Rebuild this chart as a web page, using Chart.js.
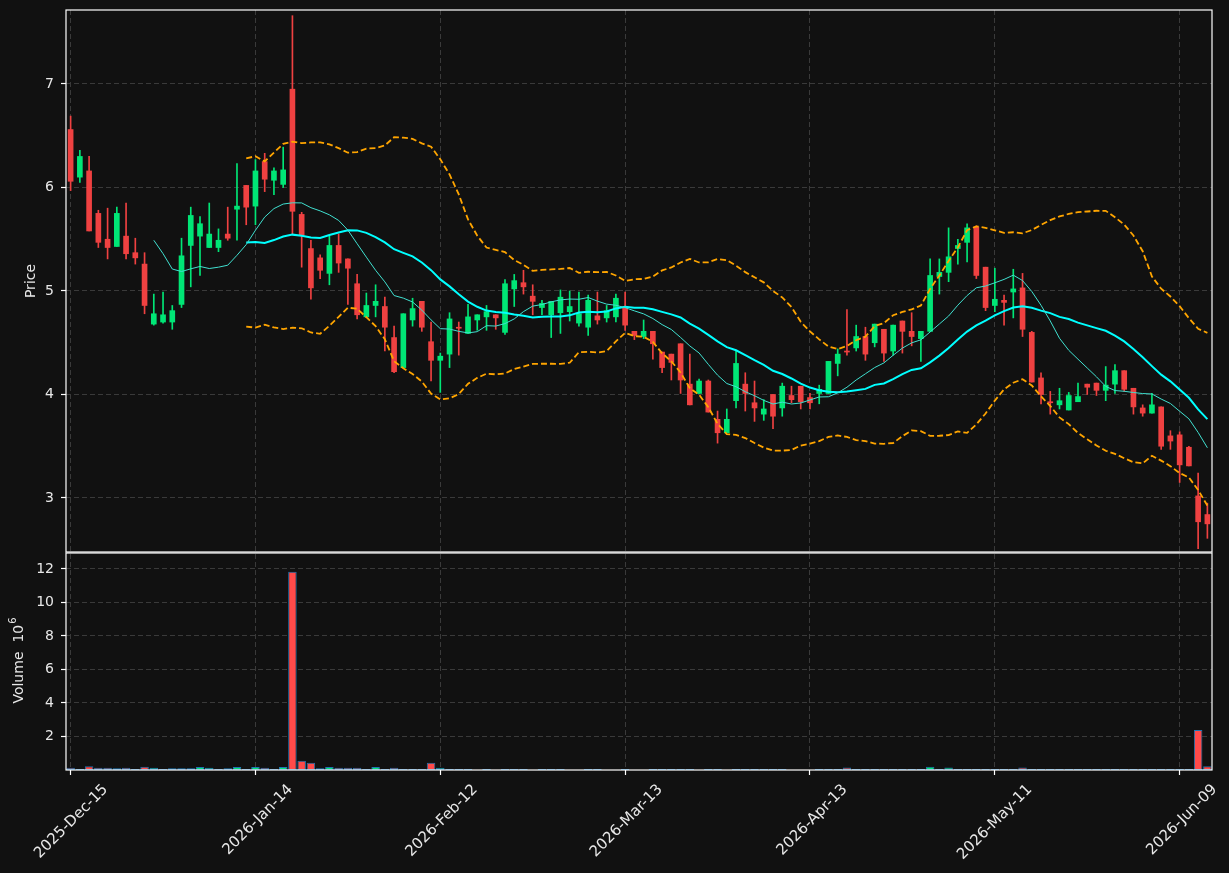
<!DOCTYPE html>
<html>
<head>
<meta charset="utf-8">
<script src="https://cdn.jsdelivr.net/npm/chart.js@4.4.1/dist/chart.umd.min.js"></script>
<style>
  html, body { margin: 0; padding: 0; background: #111111; }
  #wrap { width: 1229px; height: 873px; }
</style>
</head>
<body>
<div id="wrap"><canvas id="chart" width="1229" height="873"></canvas></div>
<script>
// daily OHLC
const opens = [6.56,6.10,6.16,5.75,5.50,5.43,5.53,5.37,5.26,4.68,
  4.70,4.70,4.87,5.44,5.53,5.42,5.42,5.55,5.79,6.02,
  5.82,6.25,6.07,6.03,6.95,5.74,5.41,5.32,5.17,5.44,
  5.31,5.07,4.75,4.86,4.85,4.55,4.26,4.72,4.90,4.51,
  4.33,4.39,4.65,4.59,4.72,4.75,4.77,4.60,5.02,5.08,
  4.95,4.84,4.77,4.79,4.80,4.69,4.65,4.76,4.74,4.75,
  4.84,4.61,4.56,4.61,4.41,4.39,4.49,4.10,4.01,4.13,
  3.76,3.63,3.94,4.10,3.92,3.81,4.00,3.87,3.99,4.08,
  3.97,4.01,4.01,4.30,4.42,4.45,4.56,4.50,4.63,4.42,
  4.71,4.61,4.54,4.61,5.14,5.18,5.41,5.47,5.62,5.23,
  4.86,4.91,4.99,5.03,4.60,4.16,3.93,3.90,3.85,3.93,
  4.10,4.11,4.04,4.10,4.23,4.06,3.87,3.82,3.88,3.60,
  3.61,3.49,3.02,2.84];
const highs = [6.69,6.36,6.30,5.78,5.80,5.81,5.85,5.51,5.37,4.97,
  4.99,4.86,5.51,5.81,5.72,5.85,5.60,5.81,6.23,6.02,
  6.27,6.33,6.19,6.39,7.66,5.76,5.49,5.35,5.53,5.55,
  5.31,5.16,4.98,5.06,4.94,4.66,4.78,4.93,4.90,4.70,
  4.40,4.79,4.70,4.87,4.77,4.86,4.77,5.11,5.16,5.20,
  5.06,4.91,4.90,5.01,5.00,4.99,4.96,4.99,4.86,4.97,
  4.99,4.61,4.72,4.61,4.41,4.39,4.49,4.39,4.15,4.14,
  3.84,3.86,4.42,4.21,4.13,3.95,4.00,4.11,4.08,4.08,
  4.01,4.09,4.32,4.44,4.82,4.67,4.65,4.68,4.63,4.67,
  4.71,4.79,4.61,5.31,5.31,5.61,5.50,5.65,5.63,5.23,
  5.22,4.96,5.21,5.17,4.61,4.21,4.03,4.06,4.02,4.11,
  4.10,4.11,4.27,4.29,4.23,4.06,3.90,4.01,3.88,3.65,
  3.64,3.50,3.24,2.95];
const lows = [5.97,6.05,5.58,5.42,5.31,5.43,5.31,5.26,4.78,4.67,
  4.69,4.63,4.84,5.04,5.15,5.42,5.38,5.49,5.49,5.64,
  5.64,5.96,5.93,6.00,5.55,5.23,4.92,5.12,5.06,5.18,
  4.87,4.73,4.75,4.75,4.42,4.21,4.26,4.66,4.61,4.13,
  4.02,4.26,4.38,4.59,4.62,4.62,4.63,4.58,4.85,4.97,
  4.77,4.77,4.55,4.59,4.71,4.66,4.57,4.68,4.70,4.70,
  4.62,4.53,4.54,4.34,4.21,4.14,4.01,3.90,4.01,3.83,
  3.53,3.63,3.87,3.84,3.74,3.75,3.67,3.79,3.92,3.86,
  3.86,3.91,4.01,4.18,4.38,4.42,4.33,4.46,4.32,4.38,
  4.40,4.47,4.32,4.61,4.97,5.09,5.26,5.28,5.12,4.81,
  4.80,4.67,4.74,4.56,4.12,3.91,3.81,3.86,3.85,3.93,
  4.00,3.99,3.94,4.01,4.03,3.81,3.79,3.82,3.47,3.47,
  3.15,3.31,2.51,2.61];
const closes = [6.06,6.30,5.58,5.47,5.42,5.75,5.36,5.32,4.86,4.78,
  4.77,4.81,5.34,5.73,5.65,5.55,5.49,5.51,5.82,5.81,
  6.16,6.08,6.16,6.17,5.77,5.54,5.03,5.20,5.44,5.27,
  5.22,4.77,4.86,4.90,4.65,4.22,4.78,4.83,4.65,4.33,
  4.37,4.73,4.64,4.75,4.77,4.80,4.74,5.07,5.10,5.04,
  4.90,4.88,4.90,4.94,4.85,4.78,4.91,4.72,4.81,4.93,
  4.67,4.57,4.61,4.49,4.26,4.31,4.14,3.90,4.13,3.83,
  3.63,3.76,4.30,4.01,3.87,3.86,3.79,4.08,3.95,3.93,
  3.92,4.05,4.32,4.39,4.41,4.56,4.39,4.68,4.40,4.67,
  4.61,4.56,4.61,5.15,5.18,5.33,5.44,5.61,5.15,4.84,
  4.92,4.89,5.02,4.63,4.12,4.00,3.92,3.94,3.99,3.98,
  4.07,4.04,4.09,4.23,4.05,3.88,3.82,3.90,3.50,3.55,
  3.32,3.31,2.77,2.75];
// volume in millions
const volumes = [0.13,0.06,0.23,0.13,0.13,0.11,0.13,0.06,0.20,0.13,
  0.06,0.11,0.11,0.11,0.18,0.13,0.06,0.10,0.18,0.06,
  0.18,0.13,0.06,0.18,11.83,0.55,0.43,0.10,0.18,0.13,
  0.13,0.13,0.06,0.18,0.06,0.13,0.06,0.06,0.06,0.43,
  0.13,0.06,0.06,0.06,0,0.06,0,0.06,0.06,0.06,
  0,0.06,0.06,0.06,0,0,0.06,0.06,0,0,
  0.06,0,0,0.06,0.06,0.06,0.06,0.06,0,0.06,
  0.06,0,0.06,0.06,0.06,0.06,0.06,0.06,0,0,
  0,0.06,0.06,0.06,0.15,0.06,0.06,0.06,0.06,0.06,
  0.06,0.06,0.06,0.20,0.06,0.15,0.06,0.06,0.06,0.06,
  0.06,0.06,0.06,0.15,0.06,0.06,0.06,0.06,0.06,0.06,
  0.06,0.06,0.06,0.06,0.06,0.06,0.06,0.06,0.06,0.06,
  0.06,0.06,2.39,0.23];

const tickIndex = [0, 20, 40, 60, 80, 100, 120];
const tickLabels = ['2025-Dec-15', '2026-Jan-14', '2026-Feb-12', '2026-Mar-13', '2026-Apr-13', '2026-May-11', '2026-Jun-09'];

const UP = '#00e676';
const DOWN = '#ef4141';

// moving averages and bollinger bands from the closes
const mean = a => a.reduce((s, v) => s + v, 0) / a.length;
const sd = a => { const m = mean(a); return Math.sqrt(mean(a.map(v => (v - m) ** 2))); };
function rolling(values, n, fn) {
  return values.map((_, i) => i < n - 1 ? null : fn(values.slice(i - n + 1, i + 1)));
}
const ma10 = rolling(closes, 10, mean);
const ma20 = rolling(closes, 20, mean);
const bbUpper = rolling(closes, 20, a => mean(a) + 2 * sd(a));
const bbLower = rolling(closes, 20, a => mean(a) - 2 * sd(a));

const labels = opens.map((_, i) => i);
const isUp = opens.map((o, i) => closes[i] >= o);
const candleColors = isUp.map(u => u ? UP : DOWN);

Chart.defaults.font.family = '"DejaVu Sans", sans-serif';
Chart.defaults.font.size = 14;
Chart.defaults.color = '#e8e8e8';

const gridColor = '#3a3a3a';
const isTick = i => tickIndex.includes(i);

const frame = {
  id: 'frame',
  beforeDraw(chart) {
    const c = chart.ctx;
    c.save();
    c.fillStyle = '#111111';
    c.fillRect(0, 0, chart.width, chart.height);
    c.restore();
  },
  afterDraw(chart) {
    const c = chart.ctx, a = chart.chartArea;
    const py = chart.scales.y, vy = chart.scales.yv;
    c.save();
    c.strokeStyle = '#ffffff';
    c.lineWidth = 1.2;
    c.strokeRect(a.left, py.top, a.right - a.left, py.bottom - py.top);
    c.strokeRect(a.left, vy.top + 1, a.right - a.left, vy.bottom - vy.top - 1);

    c.fillStyle = '#e8e8e8';
    c.textBaseline = 'middle';
    c.textAlign = 'center';
    c.font = '14px "DejaVu Sans"';
    c.save();
    c.translate(31, (py.top + py.bottom) / 2);
    c.rotate(-Math.PI / 2);
    c.fillText('Price', 0, 0);
    c.restore();

    const main = 'Volume  10', sup = '6';
    const w1 = c.measureText(main).width;
    c.font = '10px "DejaVu Sans"';
    const w2 = c.measureText(sup).width;
    c.save();
    c.translate(19, (vy.top + vy.bottom) / 2);
    c.rotate(-Math.PI / 2);
    c.textAlign = 'left';
    c.font = '14px "DejaVu Sans"';
    c.fillText(main, -(w1 + w2) / 2, 0);
    c.font = '10px "DejaVu Sans"';
    c.fillText(sup, -(w1 + w2) / 2 + w1 + 1, -6);
    c.restore();
    c.restore();
  }
};

const fitY = s => { s.width = 66; s.paddingTop = 0; s.paddingBottom = 0; };

new Chart(document.getElementById('chart'), {
  data: {
    labels: labels,
    datasets: [
      { type: 'line', data: ma10, yAxisID: 'y', borderColor: '#40e0d0', borderWidth: 1, pointRadius: 0, order: 0 },
      { type: 'line', data: ma20, yAxisID: 'y', borderColor: '#00ffff', borderWidth: 2, pointRadius: 0, order: 0 },
      { type: 'line', data: bbUpper, yAxisID: 'y', borderColor: '#ffa500', borderWidth: 1.8, borderDash: [6, 3], pointRadius: 0, order: 0 },
      { type: 'line', data: bbLower, yAxisID: 'y', borderColor: '#ffa500', borderWidth: 1.8, borderDash: [6, 3], pointRadius: 0, order: 0 },
      { type: 'bar', data: opens.map((o, i) => [o, closes[i]]), yAxisID: 'y', backgroundColor: candleColors,
        barThickness: 5, grouped: false, minBarLength: 1, order: 1 },
      { type: 'bar', data: lows.map((l, i) => [l, highs[i]]), yAxisID: 'y', backgroundColor: candleColors,
        barThickness: 1, grouped: false, order: 2 },
      { type: 'bar', data: volumes, yAxisID: 'yv', backgroundColor: isUp.map(u => u ? '#00e676' : '#ff4a4a'),
        borderColor: '#1f77b4', borderWidth: 1, borderSkipped: false,
        barPercentage: 0.92, categoryPercentage: 1, grouped: false, order: 3 }
    ]
  },
  options: {
    responsive: false,
    animation: false,
    layout: { padding: { top: 10, right: 17, left: 0, bottom: 0 } },
    plugins: { legend: { display: false }, tooltip: { enabled: false } },
    scales: {
      x: {
        type: 'category',
        offset: true,
        afterFit: s => { s.height = 103; s.paddingLeft = 0; s.paddingRight = 0; },
        border: { display: false, dash: [5, 3] },
        grid: {
          offset: false,
          color: c => isTick(c.index) ? gridColor : 'rgba(0,0,0,0)',
          tickColor: c => isTick(c.index) ? '#ffffff' : 'rgba(0,0,0,0)',
          tickLength: 5,
          tickWidth: 1.2
        },
        ticks: {
          autoSkip: false,
          maxRotation: 45,
          minRotation: 45,
          labelOffset: 35,
          padding: 6,
          color: '#e8e8e8',
          font: { size: 15 },
          callback: (v, i) => isTick(i) ? tickLabels[tickIndex.indexOf(i)] : ''
        }
      },
      yv: {
        position: 'left',
        stack: 'panels',
        stackWeight: 218,
        min: 0,
        max: 13.01,
        afterFit: fitY,
        border: { display: false, dash: [5, 3] },
        grid: { color: gridColor, tickColor: '#ffffff', tickLength: 5, tickWidth: 1.2 },
        ticks: { stepSize: 2, includeBounds: false, padding: 7, color: '#e8e8e8',
          callback: v => v === 0 ? null : v }
      },
      y: {
        position: 'left',
        stack: 'panels',
        stackWeight: 542,
        min: 2.478,
        max: 7.715,
        afterFit: fitY,
        border: { display: false, dash: [5, 3] },
        grid: { color: gridColor, tickColor: '#ffffff', tickLength: 5, tickWidth: 1.2 },
        ticks: { stepSize: 1, includeBounds: false, padding: 7, color: '#e8e8e8' }
      }
    }
  },
  plugins: [frame]
});
</script>
</body>
</html>
